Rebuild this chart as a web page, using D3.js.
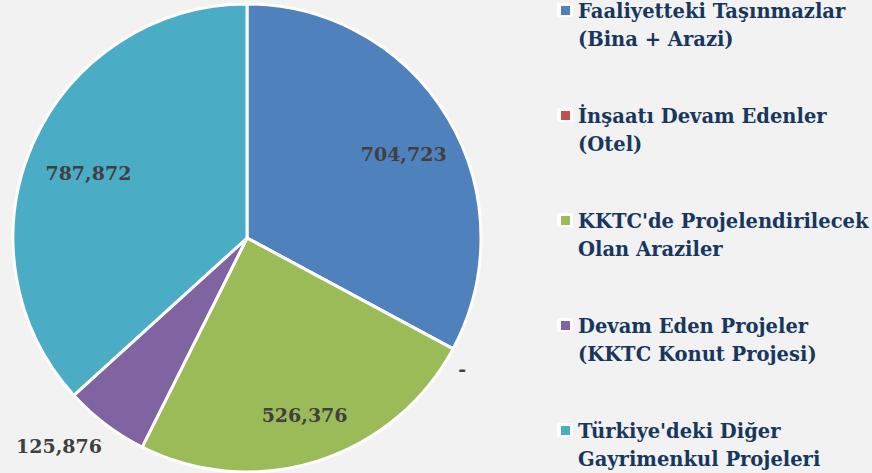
<!DOCTYPE html>
<html>
<head>
<meta charset="utf-8">
<script src="https://cdn.jsdelivr.net/npm/d3@7"></script>
<style>
  body { margin: 0; background: #F2F2F2; }
  svg { display: block; }
</style>
</head>
<body>
<div class="chart"></div>
<script>
// 資料
const categories = [
  ["Faaliyetteki Taşınmazlar", "(Bina + Arazi)"],
  ["İnşaatı Devam Edenler", "(Otel)"],
  ["KKTC'de Projelendirilecek", "Olan Araziler"],
  ["Devam Eden Projeler", "(KKTC Konut Projesi)"],
  ["Türkiye'deki Diğer", "Gayrimenkul Projeleri"]
]
const values = [704723, 0, 526376, 125876, 787872]
const colors = ["#4F81BD", "#C0504D", "#9BBB59", "#8064A2", "#4BACC6"]

function drawPie() {
  const svgWidth = 872
  const svgHeight = 473
  const cx = 247
  const cy = 238
  const radius = 234

  const svg = d3.select('.chart')
    .append('svg')
    .attr('width', svgWidth)
    .attr('height', svgHeight)

  svg.append('rect')
    .attr('width', svgWidth)
    .attr('height', svgHeight)
    .attr('fill', '#F2F2F2')

  const data = values.map((v, i) => ({ value: v, idx: i }))

  const pie = d3.pie()
    .value(d => d.value)
    .sort(null)

  const arcs = pie(data)

  const arc = d3.arc()
    .innerRadius(0)
    .outerRadius(radius)

  const g = svg.append('g')
    .attr('transform', `translate(${cx}, ${cy})`)

  // 扇形
  g.selectAll('path')
    .data(arcs)
    .enter()
    .append('path')
    .attr('d', arc)
    .attr('fill', d => colors[d.data.idx])
    .attr('stroke', '#fff')
    .attr('stroke-width', 3)
    .attr('stroke-linejoin', 'round')

  // 數字標籤
  const fmt = d => d.value === 0 ? '-' : d3.format(',')(d.value)
  const total = d3.sum(values)
  const inner = d3.arc().innerRadius(radius * 0.76).outerRadius(radius * 0.76)
  const outer = d3.arc().innerRadius(radius + 6).outerRadius(radius + 6)

  g.selectAll('text.lbl')
    .data(arcs)
    .enter()
    .append('text')
    .attr('class', 'lbl')
    .each(function(d) {
      const small = d.data.value / total < 0.1
      const el = d3.select(this)
      if (small) {
        const [x, y] = outer.centroid(d)
        el.attr('x', x)
          .attr('y', y > 0 ? y + 24 : y)
          .attr('text-anchor', x < 0 ? 'end' : 'start')
      } else {
        const [x, y] = inner.centroid(d)
        el.attr('x', x + 4)
          .attr('y', y + 14)
          .attr('text-anchor', 'middle')
      }
    })
    .style('font-family', '"DejaVu Serif", serif')
    .style('font-weight', 'bold')
    .style('font-size', '19px')
    .style('fill', '#404040')
    .text(fmt)

  // 圖例
  const legend = svg.append('g')
    .attr('transform', 'translate(557, 0)')

  const item = legend.selectAll('g')
    .data(categories)
    .enter()
    .append('g')
    .attr('transform', (d, i) => `translate(0, ${18 + 105 * i})`)

  item.append('rect')
    .attr('x', 0)
    .attr('y', -15)
    .attr('width', 16)
    .attr('height', 14)
    .attr('rx', 2)
    .attr('fill', '#fff')

  item.append('rect')
    .attr('x', 4)
    .attr('y', -12)
    .attr('width', 9)
    .attr('height', 9)
    .attr('fill', (d, i) => colors[i])

  item.append('text')
    .attr('x', 21)
    .style('font-family', '"DejaVu Serif", serif')
    .style('font-weight', 'bold')
    .style('font-size', '19.5px')
    .style('fill', '#17375E')
    .selectAll('tspan')
    .data(d => d)
    .enter()
    .append('tspan')
    .attr('x', 21)
    .attr('dy', (d, i) => i === 0 ? 0 : 28)
    .text(d => d)
}

drawPie()
</script>
</body>
</html>
